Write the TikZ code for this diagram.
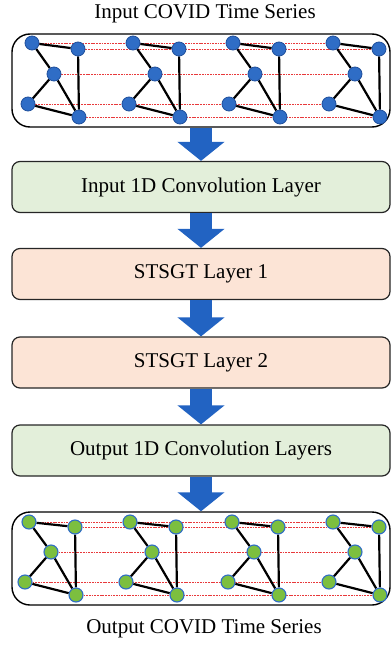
\documentclass[tikz,border=0pt]{standalone}
\usepackage{fontspec}
\setmainfont{Liberation Serif}
\usetikzlibrary{arrows.meta,backgrounds}
\definecolor{nodeblue}{HTML}{2F6DC6}
\definecolor{nodeblueline}{HTML}{1F4F9C}
\definecolor{nodegreen}{HTML}{7CBF3F}
\definecolor{arrowblue}{HTML}{2263C2}
\definecolor{boxgreen}{HTML}{E3EFDA}
\definecolor{boxpink}{HTML}{FCE4D6}
\definecolor{dashred}{HTML}{E8393B}
\tikzset{
  gnode/.style={circle,inner sep=0pt,minimum size=14pt,line width=0.8pt},
  bluenode/.style={gnode,fill=nodeblue,draw=nodeblueline},
  greennode/.style={gnode,fill=nodegreen,draw=nodeblue,line width=1.1pt},
  gedge/.style={line width=2.2pt,black},
  tline/.style={dashred,line width=0.8pt,dash pattern=on 1.8pt off 0.9pt},
  gbox/.style={draw=black,line width=1.4pt,rounded corners=18pt,minimum width=378pt,minimum height=93pt,inner sep=0pt},
  layerbox/.style={draw=black!85,line width=1.2pt,rounded corners=8pt,minimum width=378pt,minimum height=51pt,inner sep=0pt,font=\fontsize{21}{24}\selectfont},
  greenbox/.style={layerbox,fill=boxgreen},
  pinkbox/.style={layerbox,fill=boxpink},
  blockarrow/.style={arrowblue,line width=22pt,-{Triangle[width=46pt,length=19pt]}},
  title/.style={font=\fontsize{21}{24}\selectfont,inner sep=0pt}
}
\begin{document}
\begin{tikzpicture}[x=1pt,y=-1pt]
\useasboundingbox (0,0) rectangle (391,645);
% titles
\node[title] (tin) at (205,14) {Input COVID Time Series};
\node[title] (tout) at (204,629) {Output COVID Time Series};
% graph boxes
\node[gbox] (gin) at (201,80.5) {};
\node[gbox] (gout) at (201,558.5) {};
% layer boxes
\node[greenbox] (l1) at (201,187) {Input 1D Convolution Layer};
\node[pinkbox] (l2) at (201,274) {STSGT Layer 1};
\node[pinkbox] (l3) at (201,362.5) {STSGT Layer 2};
\node[greenbox] (l4) at (201,450.5) {Output 1D Convolution Layers};
% arrows
\draw[blockarrow] (gin.south) -- (l1.north);
\draw[blockarrow] (l1.south) -- (l2.north);
\draw[blockarrow] (l2.south) -- (l3.north);
\draw[blockarrow] (l3.south) -- (l4.north);
\draw[blockarrow] (l4.south) -- (gout.north);
% input graphs
\foreach \g/\x in {1/32,2/133,3/233,4/333}{
  \begin{scope}[shift={(\x,43)}]
    \node[bluenode] (ia\g) at (0,0) {};
    \node[bluenode] (ib\g) at (46,6) {};
    \node[bluenode] (ic\g) at (22,31) {};
    \node[bluenode] (id\g) at (-4,61) {};
    \node[bluenode] (ie\g) at (47,74) {};
  \end{scope}
}
% output graphs
\foreach \g/\x in {1/29,2/130,3/232,4/333}{
  \begin{scope}[shift={(\x,522)}]
    \node[greennode] (oa\g) at (0,0) {};
    \node[greennode] (ob\g) at (46,5) {};
    \node[greennode] (oc\g) at (22,30) {};
    \node[greennode] (od\g) at (-4,60) {};
    \node[greennode] (oe\g) at (47,73) {};
  \end{scope}
}
\begin{pgfonlayer}{background}
  \foreach \p in {i,o}{
    \foreach \r in {a,b,c,d,e}{
      \draw[tline] (\p\r1) -- (\p\r4);
    }
    \foreach \g in {1,2,3,4}{
      \draw[gedge] (\p a\g) -- (\p b\g);
      \draw[gedge] (\p a\g) -- (\p c\g);
      \draw[gedge] (\p c\g) -- (\p d\g);
      \draw[gedge] (\p c\g) -- (\p e\g);
      \draw[gedge] (\p d\g) -- (\p e\g);
      \draw[gedge] (\p b\g) -- (\p e\g);
    }
  }
\end{pgfonlayer}
\end{tikzpicture}
\end{document}
